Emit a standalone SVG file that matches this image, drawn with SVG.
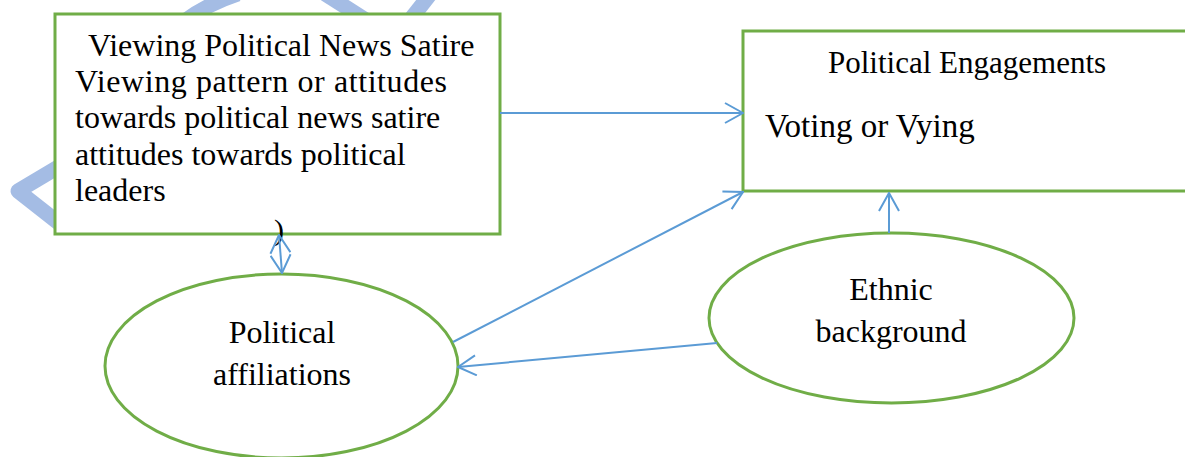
<svg xmlns="http://www.w3.org/2000/svg" width="1185" height="457" viewBox="0 0 1185 457">
<style>
.wm{fill:none;stroke:#A4BCE4;stroke-width:15;stroke-linejoin:round}
.box{fill:#FFFFFF;stroke:#70AD47;stroke-width:3}
.ell{fill:#FFFFFF;stroke:#70AD47;stroke-width:3}
.t{font-family:"Liberation Serif","Times New Roman",serif;font-size:32px;fill:#000000}
.c{text-anchor:middle}
.con{fill:none;stroke:#5B9BD5;stroke-width:2}
</style>
<defs>
<marker id="arr" viewBox="0 0 20 22" markerWidth="20" markerHeight="22" refX="19" refY="11" orient="auto-start-reverse" markerUnits="userSpaceOnUse">
<path d="M1,1 L19,11 L1,21" fill="none" stroke="#5B9BD5" stroke-width="2"/>
</marker>
</defs>
<g id="watermark">
<path class="wm" d="M60,166 L18,191 L60,224"/>
<path class="wm" d="M186,20 Q208,4 238,-6"/>
<path class="wm" d="M325,-6 L366,20"/>
<path class="wm" d="M410,20 L432,-8"/>
</g>
<g id="node-viewing">
<rect class="box" x="55" y="14" width="445" height="220"/>
<text class="t" x="88" y="56">Viewing Political News Satire</text>
<text class="t" x="75" y="92" textLength="372" lengthAdjust="spacing">Viewing pattern or attitudes</text>
<text class="t" x="75" y="128">towards political news satire</text>
<text class="t" x="75" y="165">attitudes towards political</text>
<text class="t" x="75" y="201">leaders</text>
<text class="t" x="274" y="240" style="font-size:30px">)</text>
</g>
<g id="node-engagements">
<rect class="box" x="743" y="31" width="470" height="160"/>
<text class="t" x="828" y="73" style="font-size:31px">Political Engagements</text>
<text class="t" x="765" y="137" style="font-size:33px">Voting or Vying</text>
</g>
<g id="node-affiliations">
<ellipse class="ell" cx="281.5" cy="366" rx="176.5" ry="92"/>
<text class="t c" x="282" y="343">Political</text>
<text class="t c" x="282" y="385">affiliations</text>
</g>
<g id="node-ethnic">
<ellipse class="ell" cx="891.5" cy="318" rx="182.5" ry="85"/>
<text class="t c" x="891" y="300">Ethnic</text>
<text class="t c" x="891" y="342">background</text>
</g>
<g id="connectors">
<line class="con" x1="500" y1="113" x2="743" y2="113" marker-end="url(#arr)"/>
<line class="con" x1="453" y1="342" x2="743" y2="192" marker-end="url(#arr)"/>
<line class="con" x1="717" y1="343" x2="458" y2="367" marker-end="url(#arr)"/>
<line class="con" x1="889" y1="233" x2="889" y2="193" marker-end="url(#arr)"/>
<line class="con" x1="279" y1="235" x2="282" y2="273" marker-start="url(#arr)" marker-end="url(#arr)"/>
</g>
</svg>
